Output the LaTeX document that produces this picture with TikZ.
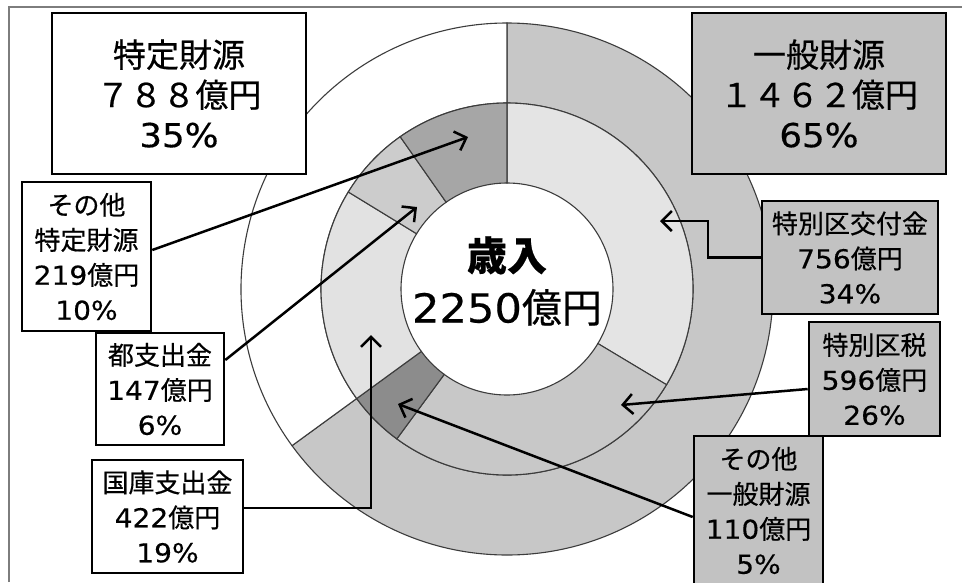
\documentclass[tikz,border=0pt]{standalone}
\usepackage{fontspec}
\setmainfont{Noto Sans CJK JP}[FakeBold=0.5]
\newfontfamily\dgfont{DejaVu Sans}[FakeStretch=1.08,FakeBold=0.4]
\newcommand\dg[1]{{\dgfont #1}}
\usetikzlibrary{arrows.meta,calc}
\definecolor{genring}{RGB}{199,199,199}
\definecolor{kofuc}{RGB}{228,228,228}
\definecolor{zeic}{RGB}{200,200,200}
\definecolor{othgc}{RGB}{140,140,140}
\definecolor{kokkoc}{RGB}{226,226,226}
\definecolor{toshic}{RGB}{204,204,204}
\definecolor{othsc}{RGB}{166,166,166}
\definecolor{boxgray}{RGB}{194,194,194}
\definecolor{ringc}{RGB}{60,60,60}
\definecolor{framec}{RGB}{125,125,125}
\tikzset{
  lbl/.style={draw=black, line width=2.6pt, align=center, inner sep=0pt, fill=white,
              font=\fontsize{26}{35}\selectfont},
  graylbl/.style={lbl, fill=boxgray},
  biglbl/.style={font=\fontsize{33}{40}\selectfont},
  conn/.style={line width=2.5pt, -{Straight Barb[length=10pt,width=20pt]}},
  seg/.style={draw=ringc, line width=1.1pt},
  framel/.style={draw=framec, line width=2pt}
}
\newcommand\ringseg[5]{%
  \filldraw[seg, fill=#1] ($(C)+(#4:#2)$) arc[start angle=#4, end angle=#5, radius=#2]
    -- ($(C)+(#5:#3)$) arc[start angle=#5, end angle=#4, radius=#3] -- cycle;}
\begin{document}
\begin{tikzpicture}[x=1pt,y=-1pt]
\useasboundingbox (0,0) rectangle (962,582);
\fill[white] (0,0) rectangle (962,582);
% frame
\draw[framel] (9,582) -- (9,7) -- (962,7);
% donut
\coordinate (C) at (507,289);
\ringseg{genring}{266}{186}{-90}{143.92}
\ringseg{white}{266}{186}{143.92}{270}
\ringseg{kofuc}{186}{106}{-90}{30.96}
\ringseg{zeic}{186}{106}{30.96}{126.32}
\ringseg{othgc}{186}{106}{126.32}{143.92}
\ringseg{kokkoc}{186}{106}{143.92}{211.44}
\ringseg{toshic}{186}{106}{211.44}{234.96}
\ringseg{othsc}{186}{106}{234.96}{270}
\node[font=\fontsize{40}{52}\selectfont, align=center] (mid) at (507,281) {\bfseries 歳入\\\dg{2250}億円};
% label boxes
\node[lbl, biglbl, minimum width=254pt, minimum height=161pt] (spec) at (179,93.5) {特定財源\\７８８億円\\\dg{35\%}};
\node[graylbl, biglbl, minimum width=254pt, minimum height=161pt] (gen) at (819,93.5) {一般財源\\１４６２億円\\\dg{65\%}};
\node[lbl, minimum width=129pt, minimum height=149pt] (oths) at (86.5,256.5) {その他\\特定財源\\\dg{219}億円\\\dg{10\%}};
\node[lbl, minimum width=128pt, minimum height=112pt] (toshi) at (160,389) {都支出金\\\dg{147}億円\\\dg{6\%}};
\node[lbl, minimum width=151pt, minimum height=113pt] (kokko) at (167.5,516.5) {国庫支出金\\\dg{422}億円\\\dg{19\%}};
\node[graylbl, minimum width=176pt, minimum height=113pt] (kofu) at (850,257.5) {特別区交付金\\\dg{756}億円\\\dg{34\%}};
\node[graylbl, minimum width=131pt, minimum height=114pt] (zei) at (874.5,379) {特別区税\\\dg{596}億円\\\dg{26\%}};
\node[graylbl, minimum width=129pt, minimum height=149pt] (othg) at (758.5,510.5) {その他\\一般財源\\\dg{110}億円\\\dg{5\%}};
% arrow tips and bends
\coordinate (t1) at (468,137);
\coordinate (t2) at (417,207);
\coordinate (c3) at (371,508);
\coordinate (t3) at (371,335);
\coordinate (t4) at (398,404);
\coordinate (t5) at (621,405);
\coordinate (c6) at (708,221);
\coordinate (t6) at (660,221);
\draw[conn] ([yshift=6.5pt]oths.east) -- (t1);
\draw[conn] ([yshift=29pt]toshi.east) -- (t2);
\draw[conn] (kokko.east |- c3) -- (c3) -- (t3);
\draw[conn] ([yshift=-6.5pt]othg.west) -- (t4);
\draw[conn] ([yshift=-10pt]zei.west) -- (t5);
\draw[conn] (kofu.west) -| (c6) -- (t6);
\end{tikzpicture}
\end{document}
